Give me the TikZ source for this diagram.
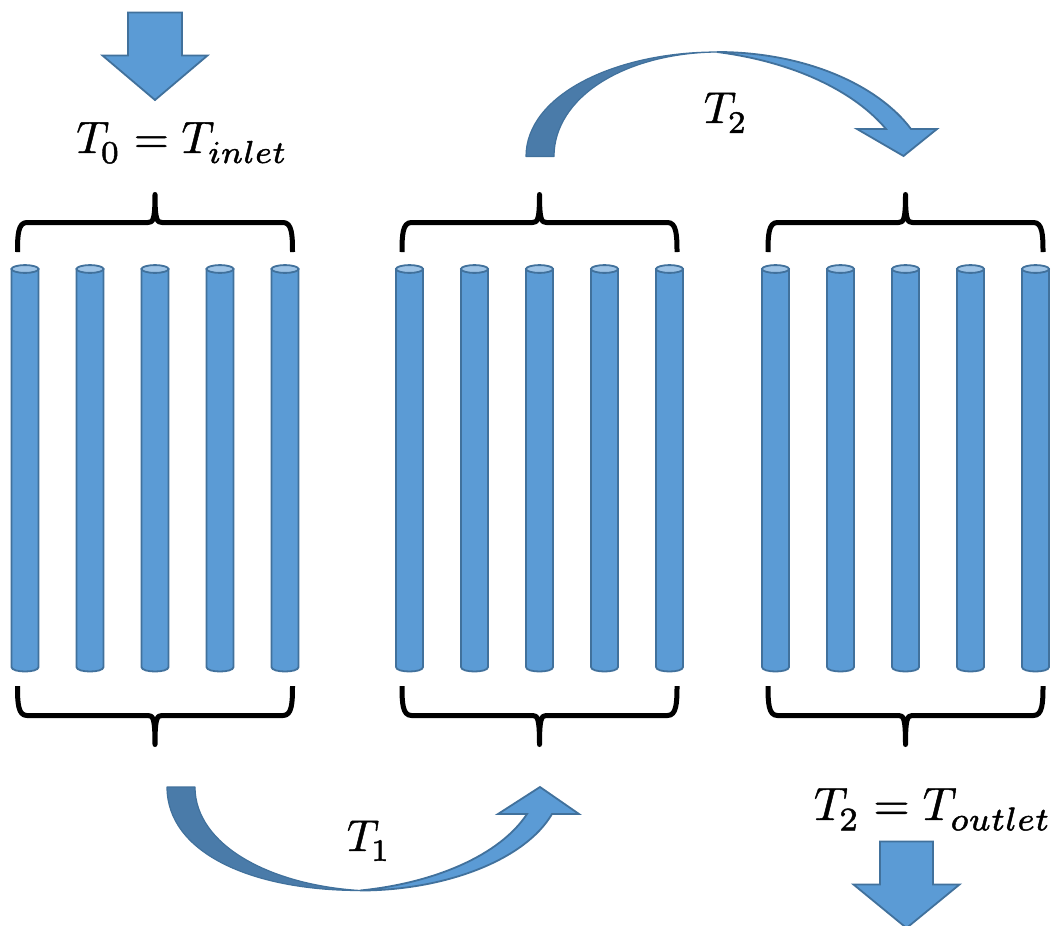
\documentclass[tikz,border=0pt]{standalone}
\definecolor{fillblue}{HTML}{5B9BD5}
\definecolor{edgeblue}{HTML}{41719C}
\definecolor{darkblue}{HTML}{4A7BA9}
\definecolor{capblue}{HTML}{9DC3E6}
\tikzset{
  x=1pt,y=-1pt,
  shape blue/.style={fill=fillblue,draw=edgeblue,line width=1.8pt,line join=miter},
  dark blue/.style={fill=darkblue,draw=edgeblue,line width=1.2pt,line join=round},
  brace line/.style={draw=black,line width=5pt,line join=round},
  label text/.style={inner sep=0pt,anchor=base west,text=black,scale=4.6},
}
\newcommand{\lowsub}[1]{\lower0.7pt\hbox{$\scriptstyle #1$}}
\newcommand{\heavytext}[1]{\special{pdf:code 2 Tr 0.1 w}#1\special{pdf:code 0 Tr}}
\newcommand{\tubegroup}{%
  \foreach \cx in {25,90,155,220,285}{%
    \draw[shape blue] (\cx-13.5,269) -- (\cx-13.5,667) .. controls (\cx-13.5,673) and (\cx+13.5,673) .. (\cx+13.5,667) -- (\cx+13.5,269) -- cycle;
    \draw[fill=capblue,draw=edgeblue,line width=1.8pt] (\cx,269) ellipse (13.5 and 3.9);
  }%
  \draw[brace line] (17.5,252) .. controls (17.5,235) and (18,222.5) .. (27,222.5) -- (148,222.5) .. controls (153,222.5) and (155,220) .. (155,194.5) .. controls (155,220) and (157,222.5) .. (162,222.5) -- (283,222.5) .. controls (292,222.5) and (292.5,235) .. (292.5,252);
  \draw[brace line] (17.5,686) .. controls (17.5,703) and (18,715.5) .. (27,715.5) -- (148,715.5) .. controls (153,715.5) and (155,718) .. (155,744.5) .. controls (155,718) and (157,715.5) .. (162,715.5) -- (283,715.5) .. controls (292,715.5) and (292.5,703) .. (292.5,686);
}
\begin{document}
\begin{tikzpicture}
\useasboundingbox (0,0) rectangle (1052,926);
\fill[white] (0,0) rectangle (1052,926);
% tube groups with braces
\begin{scope}\tubegroup\end{scope}
\begin{scope}[xshift=384.5pt]\tubegroup\end{scope}
\begin{scope}[xshift=750.5pt]\tubegroup\end{scope}
% straight down arrows
\draw[shape blue] (128,12.5) -- (182,12.5) -- (182,55.5) -- (207.5,55.5) -- (155,100) -- (102.5,55.5) -- (128,55.5) -- cycle;
\draw[shape blue] (880,841.5) -- (933,841.5) -- (933,884.5) -- (959.5,884.5) -- (906.5,928) -- (853.5,884.5) -- (880,884.5) -- cycle;
% curved arrow T2
\draw[shape blue] (717,52) .. controls (805,52) and (878,85) .. (911,129) -- (937,129) -- (903.5,156) -- (857,129) -- (886,129) .. controls (855,92) and (795,62) .. (717,52) -- cycle;
\draw[dark blue] (526,156.5) .. controls (526,95) and (615,52) .. (717,52) .. controls (625,53) and (554,97) .. (554,156.5) -- cycle;
% curved arrow T1
\draw[shape blue] (360,890.5) .. controls (445,890.5) and (525,860) .. (552,814) -- (579,814) -- (540,787) -- (498,814) -- (527,814) .. controls (500,855) and (435,883) .. (360,890.5) -- cycle;
\draw[dark blue] (167,787) .. controls (167,852) and (250,890.5) .. (360,890.5) .. controls (270,885) and (195,845) .. (195,787) -- cycle;
% labels
\node[label text,scale=0.985] (inlet) at (75.5,153) {\heavytext{$T_{\mkern-1mu\lowsub{0}}=T_{\lowsub{inlet}}$}};
\node[label text,scale=0.97] (ttwo) at (703,123) {\heavytext{$T_{\mkern-1mu\lowsub{2}}$}};
\node[label text,scale=0.97] (tone) at (346,851) {\heavytext{$T_{\mkern-1mu\lowsub{1}}$}};
\node[label text,scale=1.02] (outlet) at (813,820) {\heavytext{$T_{\mkern-1mu\lowsub{2}}=T_{\lowsub{outlet}}$}};
\end{tikzpicture}
\end{document}
